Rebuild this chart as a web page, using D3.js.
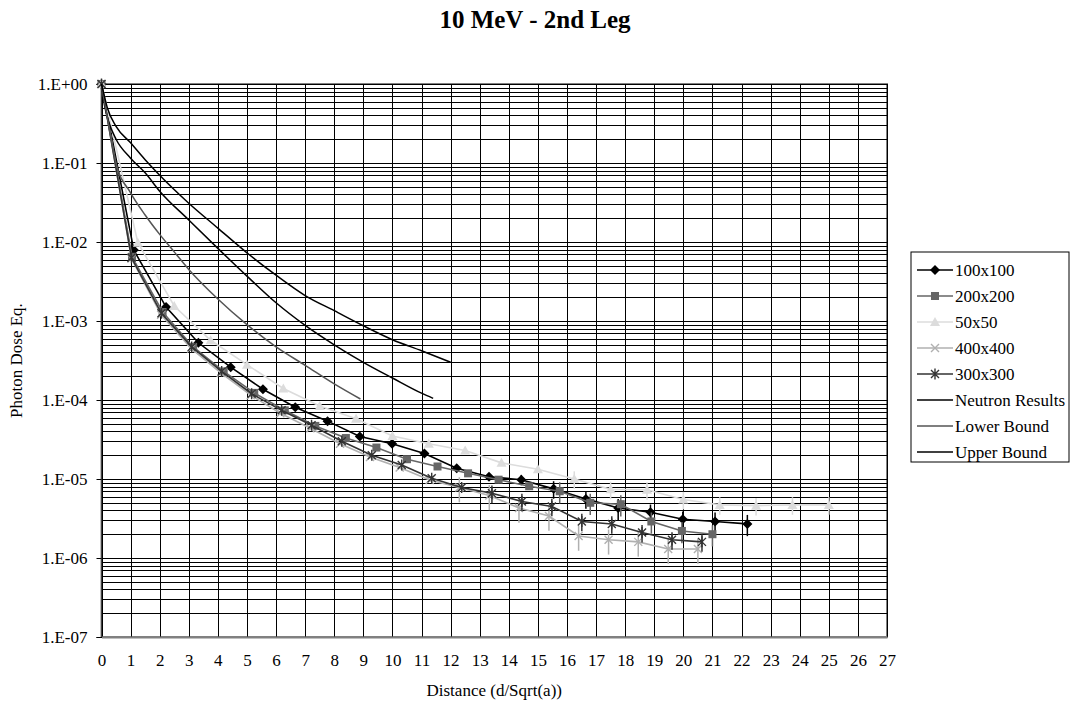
<!DOCTYPE html>
<html>
<head>
<meta charset="utf-8">
<script src="https://cdn.jsdelivr.net/npm/d3@7"></script>
<style>
  body { margin: 0; background: #fff; }
  text { font-family: "Liberation Serif", "Times New Roman", serif; fill: #000; }
</style>
</head>
<body>
<svg id="chart" width="1074" height="707"></svg>
<script>
// marker series: distance (d/sqrt(a)) and photon dose eq.
const dist100 = [0, 1.11, 2.22, 3.33, 4.44, 5.55, 6.66, 7.77, 8.88, 9.99, 11.1, 12.21, 13.32, 14.43, 15.54, 16.65, 17.76, 18.87, 19.98, 21.09, 22.2];
const dose100 = [1, 0.0079, 0.0015, 0.00053, 0.00026, 0.000137, 0.000081, 0.000054, 0.0000345, 0.000028, 0.000021, 0.0000137, 0.0000107, 0.0000098, 0.0000075, 0.0000056, 0.0000043, 0.0000038, 0.0000031, 0.0000029, 0.0000027];
const err100  = [0, 0, 0, 0, 0, 0, 0, 0, 0, 0.05, 0.05, 0.1, 0.1, 0.15, 0.25, 0.25, 0.3, 0.25, 0.25, 0.3, 0.3];

const dist200 = [0, 1.05, 2.1, 3.15, 4.2, 5.25, 6.3, 7.35, 8.4, 9.45, 10.5, 11.55, 12.6, 13.65, 14.7, 15.75, 16.8, 17.85, 18.9, 19.95, 21];
const dose200 = [1, 0.0065, 0.0013, 0.00047, 0.00023, 0.000123, 0.000074, 0.000047, 0.000033, 0.000025, 0.0000178, 0.0000144, 0.0000118, 0.0000098, 0.0000081, 0.000007, 0.000005, 0.0000048, 0.0000029, 0.0000022, 0.000002];
const err200  = [0, 0, 0, 0, 0, 0, 0, 0, 0, 0, 0, 0, 0, 0.1, 0.1, 0.3, 0.3, 0.3, 0.3, 0.3, 0.3];

const dist50 = [0, 1.25, 2.5, 3.75, 5, 6.25, 7.5, 8.75, 10, 11.25, 12.5, 13.75, 15, 16.25, 17.5, 18.75, 20, 21.25, 22.5, 23.75, 25];
const dose50 = [1, 0.0098, 0.00155, 0.00057, 0.00028, 0.00014, 0.000084, 0.000058, 0.000035, 0.000028, 0.000023, 0.000016, 0.0000133, 0.00001, 0.0000074, 0.0000073, 0.0000055, 0.0000047, 0.0000046, 0.0000047, 0.0000047];
const err50  = [0, 0, 0, 0, 0, 0, 0, 0, 0, 0, 0, 0, 0, 0.25, 0.25, 0.25, 0.25, 0.25, 0.25, 0.25, 0.25];

const dist400 = [0, 1.03, 2.05, 3.08, 4.1, 5.13, 6.15, 7.18, 8.2, 9.23, 10.25, 11.28, 12.3, 13.33, 14.35, 15.38, 16.4, 17.43, 18.45, 19.48, 20.5];
const dose400 = [1, 0.0062, 0.0012, 0.00045, 0.00022, 0.000115, 0.000068, 0.000044, 0.000028, 0.000019, 0.000014, 0.0000097, 0.0000078, 0.0000062, 0.0000043, 0.0000034, 0.0000019, 0.0000017, 0.0000016, 0.0000013, 0.0000013];
const err400  = [0, 0, 0, 0, 0, 0, 0, 0, 0, 0, 0, 0, 0.35, 0.35, 0.35, 0.35, 0.35, 0.35, 0.35, 0.35, 0.35];

const dist300 = [0, 1.03, 2.06, 3.1, 4.13, 5.16, 6.19, 7.22, 8.26, 9.29, 10.32, 11.35, 12.38, 13.42, 14.45, 15.48, 16.51, 17.54, 18.58, 19.61, 20.64];
const dose300 = [1, 0.0063, 0.00125, 0.00047, 0.00023, 0.00012, 0.000074, 0.000048, 0.00003, 0.00002, 0.000015, 0.0000102, 0.0000078, 0.0000066, 0.0000052, 0.0000045, 0.0000029, 0.0000027, 0.0000021, 0.0000017, 0.0000016];
const err300  = [0, 0, 0, 0, 0, 0, 0, 0, 0, 0, 0, 0, 0, 0.25, 0.25, 0.25, 0.25, 0.25, 0.25, 0.25, 0.25];

// smooth curves
const neutronDist = [0, 0.1, 0.25, 0.5, 1, 1.5, 2, 3, 4, 5, 6, 7, 8, 9, 10, 11, 11.4];
const neutronDose = [1, 0.55, 0.33, 0.2, 0.115, 0.075, 0.044, 0.019, 0.0083, 0.0037, 0.0017, 0.00088, 0.0005, 0.0003, 0.00019, 0.000122, 0.000105];
const lowerDist = [0, 0.1, 0.25, 0.5, 1, 1.5, 2, 2.5, 3, 4, 5, 6, 7, 8, 8.9];
const lowerDose = [1, 0.6, 0.3, 0.1, 0.042, 0.022, 0.0125, 0.0075, 0.0045, 0.0019, 0.0009, 0.00047, 0.000275, 0.00016, 0.000103];
const upperDist = [0, 0.1, 0.2, 0.5, 1, 1.5, 2, 3, 4, 5, 6, 7, 8, 9, 10, 11, 12];
const upperDose = [1, 0.7, 0.5, 0.29, 0.18, 0.11, 0.07, 0.031, 0.015, 0.0073, 0.0038, 0.0021, 0.00135, 0.00087, 0.00058, 0.00042, 0.0003];

const xTickValues = d3.range(0, 28);
const yTickValues = [1, 1e-1, 1e-2, 1e-3, 1e-4, 1e-5, 1e-6, 1e-7];
const yTickLabels = ['1.E+00', '1.E-01', '1.E-02', '1.E-03', '1.E-04', '1.E-05', '1.E-06', '1.E-07'];

const markerSeries = [
    { name: '100x100', dist: dist100, dose: dose100, err: err100, color: '#000000', shape: 'diamond' },
    { name: '200x200', dist: dist200, dose: dose200, err: err200, color: '#666666', shape: 'square' },
    { name: '50x50', dist: dist50, dose: dose50, err: err50, color: '#dcdcdc', shape: 'triangle' },
    { name: '400x400', dist: dist400, dose: dose400, err: err400, color: '#b0b0b0', shape: 'cross' },
    { name: '300x300', dist: dist300, dose: dose300, err: err300, color: '#333333', shape: 'star' }
];
const curveSeries = [
    { name: 'Neutron Results', dist: neutronDist, dose: neutronDose, color: '#000000' },
    { name: 'Lower Bound', dist: lowerDist, dose: lowerDose, color: '#555555' },
    { name: 'Upper Bound', dist: upperDist, dose: upperDose, color: '#000000' }
];

const serif = '"Liberation Serif", "Times New Roman", serif';
const svg = d3.select('#chart');
const plotLeft = 101.5, plotRight = 887, plotTop = 84, plotBottom = 637;

const x = d3.scaleLinear().domain([0, 27]).range([plotLeft, plotRight]);
const y = d3.scaleLog().domain([1e-7, 1]).range([plotBottom, plotTop]);

// title
svg.append('text')
    .attr('x', 535)
    .attr('y', 28)
    .attr('text-anchor', 'middle')
    .style('font-family', serif)
    .style('font-size', '25px')
    .style('font-weight', 'bold')
    .text('10 MeV - 2nd Leg');

// plot frame
svg.append('rect')
    .attr('x', plotLeft)
    .attr('y', plotTop)
    .attr('width', plotRight - plotLeft)
    .attr('height', plotBottom - plotTop)
    .attr('fill', '#fff')
    .attr('stroke', '#808080')
    .attr('stroke-width', 2);

// horizontal grid (major + minor decades)
const yGrid = svg.append('g')
    .attr('transform', `translate(${plotLeft},0)`)
    .call(d3.axisLeft(y).tickValues(y.ticks()).tickSize(-(plotRight - plotLeft)).tickFormat(''));
yGrid.select('.domain').remove();
yGrid.selectAll('line').attr('stroke', '#000').attr('shape-rendering', 'crispEdges');

// vertical grid
const xGrid = svg.append('g')
    .attr('transform', `translate(0,${plotBottom})`)
    .call(d3.axisBottom(x).tickValues(xTickValues).tickSize(-(plotBottom - plotTop)).tickFormat(''));
xGrid.select('.domain').remove();
xGrid.selectAll('line').attr('stroke', '#000').attr('shape-rendering', 'crispEdges');

// y axis with labels
const yAxis = svg.append('g')
    .attr('transform', `translate(${plotLeft},0)`)
    .call(d3.axisLeft(y).tickValues(yTickValues).tickSize(5).tickPadding(9)
        .tickFormat((d, i) => yTickLabels[i]));
yAxis.select('.domain').attr('stroke', '#000');
yAxis.selectAll('line').attr('stroke', '#000');
yAxis.selectAll('text').style('font-size', '17px').style('font-family', serif);

// x axis labels
const xAxis = svg.append('g')
    .attr('transform', `translate(0,${plotBottom})`)
    .call(d3.axisBottom(x).tickValues(xTickValues).tickSize(0).tickPadding(17));
xAxis.select('.domain').attr('stroke', '#808080').attr('stroke-width', 2);
xAxis.selectAll('text').style('font-size', '17px').style('font-family', serif);

// axis titles
svg.append('text')
    .attr('x', (plotLeft + plotRight) / 2)
    .attr('y', 696)
    .attr('text-anchor', 'middle')
    .style('font-family', serif)
    .style('font-size', '17px')
    .text('Distance (d/Sqrt(a))');

svg.append('text')
    .attr('transform', `translate(22,${(plotTop + plotBottom) / 2}) rotate(-90)`)
    .attr('text-anchor', 'middle')
    .style('font-family', serif)
    .style('font-size', '17px')
    .text('Photon Dose Eq.');

// marker shapes
function drawMarker(g, shape, color) {
    if (shape === 'diamond') {
        g.append('path').attr('d', 'M0,-5L5,0L0,5L-5,0Z').attr('fill', color);
    } else if (shape === 'square') {
        g.append('rect').attr('x', -4).attr('y', -4).attr('width', 8).attr('height', 8).attr('fill', color);
    } else if (shape === 'triangle') {
        g.append('path').attr('d', 'M0,-5L5,4L-5,4Z').attr('fill', color);
    } else if (shape === 'cross') {
        g.append('path').attr('d', 'M-4,-4L4,4M-4,4L4,-4').attr('stroke', color).attr('stroke-width', 1.4).attr('fill', 'none');
    } else if (shape === 'star') {
        g.append('path').attr('d', 'M-4,-4L4,4M-4,4L4,-4M0,-5.5L0,5.5').attr('stroke', color).attr('stroke-width', 1.4).attr('fill', 'none');
    }
}

svg.append('clipPath').attr('id', 'plot-clip')
    .append('rect')
    .attr('x', plotLeft - 8).attr('y', plotTop - 8)
    .attr('width', plotRight - plotLeft + 16).attr('height', plotBottom - plotTop + 16);

const plot = svg.append('g').attr('clip-path', 'url(#plot-clip)');

const straightLine = d3.line().x(d => x(d[0])).y(d => y(d[1]));

markerSeries.forEach(s => {
    const pts = s.dist.map((d, i) => [d, s.dose[i], s.err[i]]);
    const g = plot.append('g').attr('class', 'series');

    g.append('path')
        .datum(pts)
        .attr('d', straightLine)
        .attr('fill', 'none')
        .attr('stroke', s.color)
        .attr('stroke-width', 1.6);

    // y error bars
    g.selectAll('.err')
        .data(pts.filter(p => p[2] > 0))
        .join('line')
            .attr('class', 'err')
            .attr('x1', p => x(p[0]))
            .attr('x2', p => x(p[0]))
            .attr('y1', p => y(p[1] * (1 + p[2])))
            .attr('y2', p => y(p[1] * (1 - p[2])))
            .attr('stroke', s.color)
            .attr('stroke-width', 1.5);

    g.selectAll('.marker')
        .data(pts)
        .join('g')
            .attr('class', 'marker')
            .attr('transform', p => `translate(${x(p[0])},${y(p[1])})`)
            .each(function() { drawMarker(d3.select(this), s.shape, s.color); });
});

const smoothLine = d3.line().x(d => x(d[0])).y(d => y(d[1])).curve(d3.curveMonotoneX);

curveSeries.forEach(s => {
    plot.append('path')
        .datum(s.dist.map((d, i) => [d, s.dose[i]]))
        .attr('d', smoothLine)
        .attr('fill', 'none')
        .attr('stroke', s.color)
        .attr('stroke-width', 1.5);
});

// legend
const legend = svg.append('g').attr('transform', 'translate(911,252)');
legend.append('rect')
    .attr('width', 158)
    .attr('height', 210)
    .attr('fill', '#fff')
    .attr('stroke', '#000')
    .attr('stroke-width', 1);

const legendItems = markerSeries.concat(curveSeries);
const legendRows = legend.selectAll('.legend-row')
    .data(legendItems)
    .join('g')
        .attr('class', 'legend-row')
        .attr('transform', (d, i) => `translate(0,${18 + i * 26})`);

legendRows.append('line')
    .attr('x1', 6)
    .attr('x2', 42)
    .attr('stroke', d => d.color)
    .attr('stroke-width', 1.6);

legendRows.filter(d => d.shape)
    .append('g')
        .attr('transform', 'translate(24,0)')
        .each(function(d) { drawMarker(d3.select(this), d.shape, d.color); });

legendRows.append('text')
    .attr('x', 44)
    .attr('dy', '0.35em')
    .style('font-family', serif)
    .style('font-size', '17px')
    .text(d => d.name);
</script>
</body>
</html>
